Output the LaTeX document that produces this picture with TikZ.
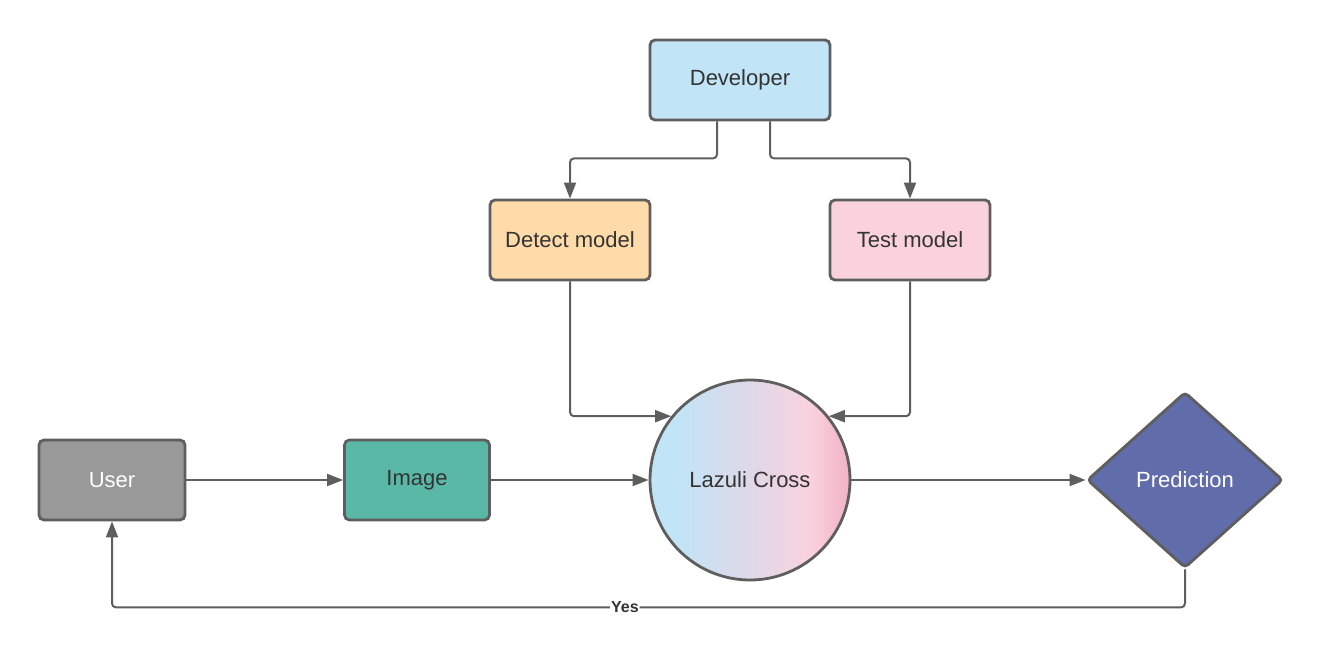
\documentclass[tikz,border=0pt]{standalone}
\usepackage{fontspec}
\setmainfont{Liberation Sans}
\usetikzlibrary{shapes.geometric,arrows.meta,calc}
\definecolor{linec}{HTML}{5E5E5E}
\definecolor{txt}{HTML}{333333}
\definecolor{devc}{HTML}{C1E4F7}
\definecolor{detc}{HTML}{FFDBA9}
\definecolor{testc}{HTML}{F9D2DE}
\definecolor{userc}{HTML}{999999}
\definecolor{imgc}{HTML}{5AB9A6}
\definecolor{predc}{HTML}{616CAB}
\definecolor{mauve}{HTML}{E0D8E8}
\definecolor{lzdeep}{HTML}{F2B1C6}
\pgfdeclarehorizontalshading{lazuli}{100bp}{color(0bp)=(devc); color(32bp)=(devc); color(50bp)=(mauve); color(65bp)=(testc); color(75bp)=(lzdeep); color(100bp)=(lzdeep)}
\begin{document}
\begin{tikzpicture}[x=1pt,y=-1pt,
  box/.style={draw=linec, line width=2.8pt, rounded corners=5pt, text=txt,
    font=\fontsize{22}{26}\selectfont, inner sep=0pt},
  conn/.style={draw=linec, line width=2pt, rounded corners=4pt,
    -{Triangle[length=16pt,width=12pt]}},
  yeslabel/.style={fill=white, text=txt, inner sep=1pt,
    font=\bfseries\fontsize{16}{19}\selectfont},
]
\useasboundingbox (0,0) rectangle (1325,660);

\node[box, fill=devc, minimum width=180pt, minimum height=80pt] (dev) at (740,80) {Developer};
\node[box, fill=detc, minimum width=160pt, minimum height=80pt] (det) at (570,240) {Detect model};
\node[box, fill=testc, minimum width=160pt, minimum height=80pt] (tst) at (910,240) {Test model};
\node[box, fill=userc, text=white, minimum width=146pt, minimum height=80pt] (user) at (112,480) {User};
\node[box, fill=imgc, minimum width=145pt, minimum height=80pt] (img) at (417,480) {Image};
\node[box, circle, minimum size=200pt, shading=lazuli] (lz) at (750,480) {Lazuli Cross};
\node[box, diamond, fill=predc, text=white, minimum width=196pt, minimum height=176pt,
  rounded corners=4pt] (pred) at (1185,480) {Prediction};

\draw[conn] ([xshift=-23pt]dev.south) -- ++(0,37) -| (det.north);
\draw[conn] ([xshift=30pt]dev.south) -- ++(0,37) -| (tst.north);
\draw[conn] (det.south) |- (lz.141);
\draw[conn] (tst.south) |- (lz.39);
\draw[conn] (user.east) -- (img.west);
\draw[conn] (img.east) -- (lz.west);
\draw[conn] (lz.east) -- (pred.west);
\draw[conn] (pred.south) -- ++(0,38) -| (user.south)
  node[yeslabel, pos=0.261] {Yes};
\end{tikzpicture}
\end{document}
